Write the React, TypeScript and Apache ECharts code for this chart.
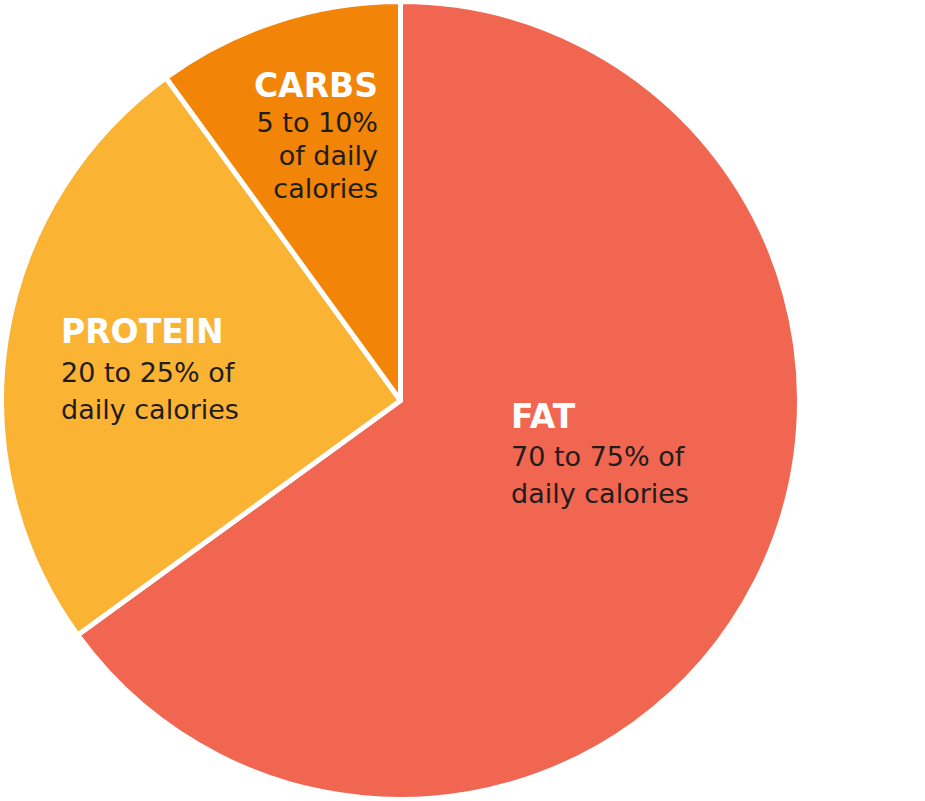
import React, { useEffect, useRef } from "react";
import * as echarts from "echarts";

const categories = ["FAT", "PROTEIN", "CARBS"];
const values = [65, 25, 10];
const colors = ["#F16651", "#FBB334", "#F28407"];
const labelLines = [
  ["70 to 75% of", "daily calories"],
  ["20 to 25% of", "daily calories"],
  ["5 to 10%", "of daily", "calories"],
];

// label anchor layout (title baseline, line baselines)
const labelLayout = [
  { x: 511, align: "left", title: 428, lines: [466, 503] },
  { x: 61, align: "left", title: 343, lines: [382, 419] },
  { x: 378, align: "right", title: 97, lines: [132, 165, 198] },
];

const FONT = "'DejaVu Sans', sans-serif";
const TITLE_SIZE = 33;
const BODY_SIZE = 27;

export default function App() {
  const ref = useRef<HTMLDivElement>(null);
  useEffect(() => {
    const chart = echarts.init(ref.current!, null, { renderer: "svg" });
    const graphics: any[] = [];
    categories.forEach((cat, i) => {
      const L = labelLayout[i];
      graphics.push({
        type: "text",
        x: L.x,
        y: L.title - TITLE_SIZE * 0.36,
        z: 100,
        silent: true,
        style: {
          text: cat,
          fill: "#ffffff",
          fontFamily: FONT,
          fontSize: TITLE_SIZE,
          fontWeight: "bold",
          align: L.align,
          verticalAlign: "middle",
        },
      });
      labelLines[i].forEach((line, j) => {
        graphics.push({
          type: "text",
          x: L.x,
          y: L.lines[j] - BODY_SIZE * 0.36,
          z: 100,
          silent: true,
          style: {
            text: line,
            fill: "#1f1d1c",
            fontFamily: FONT,
            fontSize: BODY_SIZE,
            align: L.align,
            verticalAlign: "middle",
          },
        });
      });
    });
    chart.setOption({
      animation: false,
      backgroundColor: "#ffffff",
      series: [
        {
          type: "pie",
          center: [400.5, 400.5],
          radius: 399,
          startAngle: 90,
          clockwise: true,
          label: { show: false },
          labelLine: { show: false },
          silent: true,
          itemStyle: { borderColor: "#ffffff", borderWidth: 5 },
          data: categories.map((c, i) => ({
            name: c,
            value: values[i],
            itemStyle: { color: colors[i] },
          })),
        },
      ],
      graphic: graphics,
    });
    return () => chart.dispose();
  }, []);
  return (
    <div
      ref={ref}
      style={{ position: "absolute", left: 0, top: 0, width: 925, height: 801 }}
    />
  );
}
